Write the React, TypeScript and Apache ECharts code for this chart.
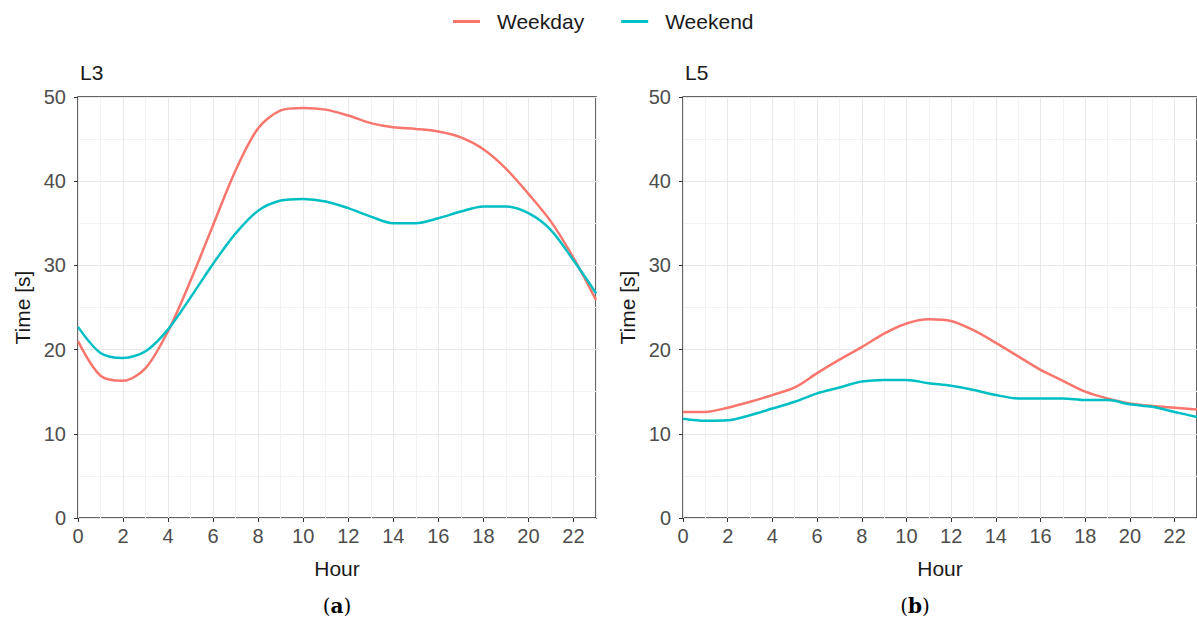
import React, { useEffect, useRef } from "react";
import * as echarts from "echarts";

const hours = [0, 1, 2, 3, 4, 5, 6, 7, 8, 9, 10, 11, 12, 13, 14, 15, 16, 17, 18, 19, 20, 21, 22, 23];
const xTickLabels = [0, 2, 4, 6, 8, 10, 12, 14, 16, 18, 20, 22];
const yTickLabels = [0, 10, 20, 30, 40, 50];

const l3Weekday = [21.0, 16.9, 16.3, 17.8, 22.2, 28.2, 34.8, 41.3, 46.3, 48.4, 48.7, 48.5, 47.8, 46.9, 46.4, 46.2, 45.9, 45.2, 43.8, 41.5, 38.5, 35.2, 30.9, 25.9];
const l3Weekend = [22.7, 19.6, 19.0, 19.8, 22.4, 26.2, 30.2, 33.8, 36.5, 37.7, 37.9, 37.6, 36.8, 35.8, 35.0, 35.0, 35.6, 36.4, 37.0, 37.0, 36.2, 34.2, 30.6, 26.7];
const l5Weekday = [12.6, 12.6, 13.1, 13.8, 14.6, 15.5, 17.2, 18.8, 20.3, 21.9, 23.1, 23.6, 23.4, 22.3, 20.8, 19.2, 17.6, 16.3, 15.0, 14.2, 13.6, 13.3, 13.1, 12.9];
const l5Weekend = [11.8, 11.55, 11.6, 12.2, 13.0, 13.8, 14.8, 15.5, 16.2, 16.4, 16.4, 16.0, 15.7, 15.2, 14.6, 14.2, 14.2, 14.2, 14.0, 14.0, 13.5, 13.2, 12.6, 12.0];

const seriesNames = ["Weekday", "Weekend"];
const colors = ["#F8766D", "#00BFC4"];
const panelTitles = ["L3", "L5"];
const captions = ["a", "b"];

const FONT = "'Liberation Sans', Arial, sans-serif";

export default function App() {
  const ref = useRef<HTMLDivElement>(null);

  useEffect(() => {
    if (!ref.current) return;
    const chart = echarts.init(ref.current, undefined, { renderer: "svg" });

    const grids = [
      { left: 78, top: 97, width: 518, height: 421 },
      { left: 683, top: 97, width: 516, height: 421 },
    ];

    const xAxes: any[] = [];
    const yAxes: any[] = [];
    grids.forEach((g, gi) => {
      // grid-line axis
      xAxes.push({
        type: "value",
        gridIndex: gi,
        min: 0,
        max: 23,
        interval: 1,
        axisLine: { show: false },
        axisTick: { show: false },
        axisLabel: { show: false },
        splitLine: { show: true, lineStyle: { color: ["#e8e8e8", "#f2f2f2"], width: 1 } },
      });
      // tick + label axis
      xAxes.push({
        type: "value",
        gridIndex: gi,
        min: 0,
        max: 23,
        interval: 2,
        position: "bottom",
        name: "Hour",
        nameLocation: "middle",
        nameGap: 40,
        nameTextStyle: { fontFamily: FONT, fontSize: 21, color: "#1a1a1a" },
        axisLine: { show: false },
        axisTick: { show: true, length: 4, customValues: xTickLabels, lineStyle: { color: "#333333", width: 1 } },
        axisLabel: { customValues: xTickLabels, fontFamily: FONT, fontSize: 20, color: "#4d4d4d", margin: 8 },
        splitLine: { show: false },
      });
      yAxes.push({
        type: "value",
        gridIndex: gi,
        min: 0,
        max: 50,
        interval: 10,
        name: "Time [s]",
        nameLocation: "middle",
        nameGap: 45,
        nameRotate: 90,
        nameTextStyle: { fontFamily: FONT, fontSize: 21, color: "#1a1a1a" },
        axisLine: { show: false },
        axisTick: { show: true, length: 4, lineStyle: { color: "#333333", width: 1 } },
        axisLabel: {
          fontFamily: FONT,
          fontSize: 20,
          color: "#4d4d4d",
          margin: 12,
          formatter: (v: number) => (yTickLabels.includes(v) ? String(v) : ""),
        },
        splitLine: { show: true, lineStyle: { color: "#e8e8e8", width: 1 } },
        minorTick: { show: false, splitNumber: 2 },
        minorSplitLine: { show: true, lineStyle: { color: "#f2f2f2", width: 1 } },
      });
    });

    const panelData = [
      [l3Weekday, l3Weekend],
      [l5Weekday, l5Weekend],
    ];

    const series: any[] = [];
    panelData.forEach((pair, gi) => {
      pair.forEach((vals, si) => {
        series.push({
          type: "line",
          name: seriesNames[si],
          xAxisIndex: gi * 2,
          yAxisIndex: gi,
          data: hours.map((h, i) => [h, vals[i]]),
          showSymbol: false,
          symbol: "none",
          smooth: 0.3,
          lineStyle: { color: colors[si], width: 2.5 },
          itemStyle: { color: colors[si] },
          z: 3 + si,
        });
      });
    });

    const graphic: any[] = [];
    grids.forEach((g, gi) => {
      graphic.push({
        type: "text",
        left: g.left + 2,
        top: 62,
        style: { text: panelTitles[gi], font: `21px ${FONT}`, fill: "#1a1a1a" },
      });
    });
    const captionX = [337, 915];
    captionX.forEach((cx, i) => {
      graphic.push({
        type: "text",
        x: cx,
        y: 606,
        style: {
          text: `{n|(}{b|${captions[i]}}{n|)}`,
          align: "center",
          verticalAlign: "middle",
          rich: {
            n: { font: `20px 'DejaVu Serif', 'Liberation Serif', serif`, fill: "#000" },
            b: { font: `bold 20px 'DejaVu Serif', 'Liberation Serif', serif`, fill: "#000" },
          },
        },
      });
    });

    chart.setOption({
      animation: false,
      color: colors,
      legend: {
        data: seriesNames,
        left: 448,
        top: 6,
        icon: "rect",
        itemWidth: 27,
        itemHeight: 3,
        itemGap: 37,
        textStyle: { fontFamily: FONT, fontSize: 21, color: "#1a1a1a", padding: [0, 0, 0, 12] },
      },
      grid: grids.map((g) => ({ ...g, show: true, borderColor: "#333333", borderWidth: 1.5, backgroundColor: "transparent" })),
      xAxis: xAxes,
      yAxis: yAxes,
      series,
      graphic,
    });

    return () => chart.dispose();
  }, []);

  return (
    <div
      ref={ref}
      style={{ position: "fixed", left: 0, top: 0, width: 1197, height: 626, background: "#fff" }}
    />
  );
}
